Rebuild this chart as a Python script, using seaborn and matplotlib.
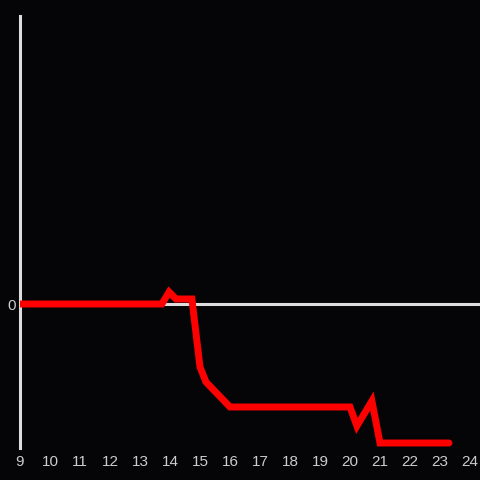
import matplotlib
matplotlib.use("Agg")
import matplotlib.pyplot as plt
import seaborn as sns
import pandas as pd

x_vals = [9.0, 13.73, 13.97, 14.2, 14.73, 15.0, 15.2, 16.0, 20.0, 20.23, 20.73, 21.0, 23.3]
y_vals = [0, 0, 12, 5, 5, -63, -78, -103, -103, -122, -97, -139, -139]
x_ticks = list(range(9, 25))

sns.set_theme(style="dark")
plt.rcParams['font.family'] = ['Liberation Sans', 'DejaVu Sans']

bg = '#050508'
fig = plt.figure(figsize=(4.8, 4.8), dpi=100, facecolor=bg)
ax = fig.add_axes([20/480, 32/480, 460/480, 432/480])
ax.set_facecolor(bg)

df = pd.DataFrame({'x': x_vals, 'y': y_vals})
ax.axhline(0, color='#dddddd', lw=2.2, zorder=1)
sns.lineplot(data=df, x='x', y='y', ax=ax, color='#ff0000', lw=5, zorder=3,
             solid_joinstyle='miter')

ax.set_xlim(9, 9 + 460/30)
ax.set_ylim(-144, 288)
ax.set_xticks(x_ticks)
ax.set_xticklabels([str(t) for t in x_ticks])
ax.set_yticks([0])
ax.set_yticklabels(['0'])
ax.tick_params(axis='both', length=0, colors='#cccccc', labelsize=11)
ax.tick_params(axis='x', pad=5)
ax.tick_params(axis='y', pad=3)
ax.set_xlabel('')
ax.set_ylabel('')
ax.grid(False)
for s in ['top', 'right', 'bottom']:
    ax.spines[s].set_visible(False)
ax.spines['left'].set_visible(True)
ax.spines['left'].set_color('#dddddd')
ax.spines['left'].set_linewidth(2.2)

fig.savefig('out.png', dpi=100, facecolor=bg)
